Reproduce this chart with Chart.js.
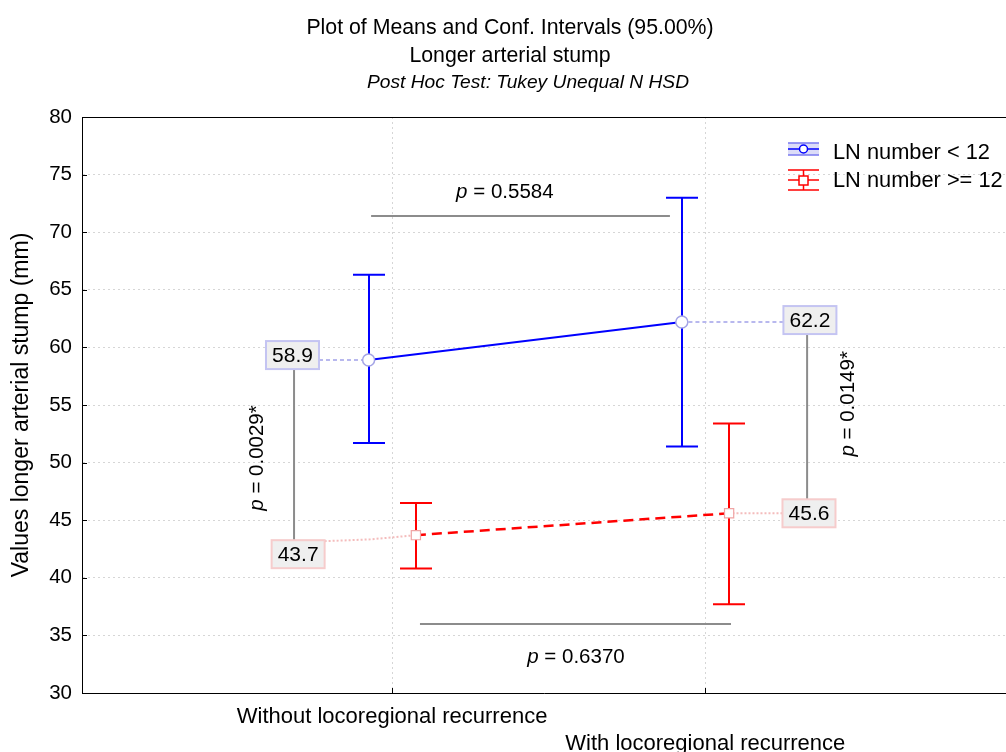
<!DOCTYPE html>
<html><head><meta charset="utf-8">
<script src="https://cdn.jsdelivr.net/npm/chart.js@4/dist/chart.umd.min.js"></script>
<style>html,body{margin:0;padding:0;background:#fff;overflow:hidden}#wrap{width:1006px;height:752px;position:relative}canvas{display:block}</style>
</head><body><div id="wrap"><canvas id="c"></canvas></div>
<script>
// ---- data ----
const categories = ['Without locoregional recurrence', 'With locoregional recurrence'];
const seriesNames = ['LN number < 12', 'LN number >= 12'];
const meansLow = [58.9, 62.2];
const ciLowerLow = [51.7, 51.4];
const ciUpperLow = [66.3, 73.0];
const meansHigh = [43.7, 45.6];
const ciLowerHigh = [40.8, 37.7];
const ciUpperHigh = [46.5, 53.4];
const yTickValues = [30, 35, 40, 45, 50, 55, 60, 65, 70, 75, 80];
const pValues = ['0.5584', '0.6370', '0.0029*', '0.0149*'];
const titleLines = ['Plot of Means and Conf. Intervals (95.00%)', 'Longer arterial stump', 'Post Hoc Test: Tukey Unequal N HSD'];

// ---- style / layout ----
const FONT = '"Liberation Sans", Arial, Helvetica, sans-serif';
const BLUE = '#0000ff', RED = '#ff0000';
const OFF_LOW = -0.075, OFF_HIGH = 0.076;
const groups = [
  {means: meansLow, lo: ciLowerLow, hi: ciUpperLow, off: OFF_LOW, color: BLUE,
   boxBorder: '#c4c4f2', conn: '#b8b8ee', connDash: [4, 3],
   labels: [{dx: -0.318, dy: -5}, {dx: 0.334, dy: -2}]},
  {means: meansHigh, lo: ciLowerHigh, hi: ciUpperHigh, off: OFF_HIGH, color: RED,
   boxBorder: '#f6cccc', conn: '#f4bcbc', connDash: [2, 2],
   labels: [{dx: -0.30, dy: 19}, {dx: 0.331, dy: 0}]}
];
const BOX_W = 53, BOX_H = 28;

function boxRect(chart, g, i) {
  const {x, y} = chart.scales;
  const cx = x.getPixelForValue(i + 1 + g.labels[i].dx);
  const cy = y.getPixelForValue(g.means[i]) + g.labels[i].dy;
  return {cx, cy, l: cx - BOX_W / 2, r: cx + BOX_W / 2, t: cy - BOX_H / 2, b: cy + BOX_H / 2};
}

function drawP(ctx, cx, cy, val, rot, size) {
  ctx.save();
  ctx.translate(cx, cy);
  ctx.rotate(rot);
  ctx.fillStyle = '#000';
  ctx.textBaseline = 'middle';
  ctx.textAlign = 'left';
  const fi = 'italic ' + size + 'px ' + FONT, fn = size + 'px ' + FONT;
  ctx.font = fi; const w1 = ctx.measureText('p').width;
  ctx.font = fn; const rest = ' = ' + val; const w2 = ctx.measureText(rest).width;
  const x0 = -(w1 + w2) / 2;
  ctx.font = fi; ctx.fillText('p', x0, 0);
  ctx.font = fn; ctx.fillText(rest, x0 + w1, 0);
  ctx.restore();
}

const decor = {
  id: 'decor',
  beforeDatasetsDraw(chart) {
    const ctx = chart.ctx; const {x, y} = chart.scales; const ca = chart.chartArea;
    // top frame + inner ticks
    ctx.save();
    ctx.strokeStyle = '#000'; ctx.lineWidth = 1;
    ctx.beginPath(); ctx.moveTo(ca.left, ca.top + 0.5); ctx.lineTo(ca.right, ca.top + 0.5); ctx.stroke();
    ctx.beginPath();
    yTickValues.forEach(v => { const py = Math.round(y.getPixelForValue(v)) + 0.5; ctx.moveTo(ca.left, py); ctx.lineTo(ca.left + 5, py); });
    categories.forEach((c, i) => { const px = Math.round(x.getPixelForValue(i + 1)) + 0.5; ctx.moveTo(px, ca.bottom); ctx.lineTo(px, ca.bottom - 5); });
    ctx.stroke();
    ctx.restore();
    // connectors
    groups.forEach(g => {
      g.means.forEach((m, i) => {
        const b = boxRect(chart, g, i);
        const px = x.getPixelForValue(i + 1 + g.off), py = y.getPixelForValue(m);
        const sx = px > b.cx ? b.r : b.l;
        const sy = Math.max(b.t + 1, Math.min(b.b - 1, py));
        const mx = sx + (px - sx) * 0.5;
        ctx.save();
        ctx.strokeStyle = g.conn; ctx.lineWidth = 2; ctx.setLineDash(g.connDash);
        ctx.beginPath(); ctx.moveTo(sx, sy); ctx.lineTo(mx, sy + (py - sy) * 0.3); ctx.lineTo(px, py); ctx.stroke();
        ctx.restore();
      });
    });
    // p-value brackets
    ctx.save();
    ctx.strokeStyle = '#8c8c8c'; ctx.lineWidth = 2;
    ctx.beginPath();
    ctx.moveTo(x.getPixelForValue(0.933), y.getPixelForValue(71.4));
    ctx.lineTo(x.getPixelForValue(1.887), y.getPixelForValue(71.4));
    ctx.moveTo(x.getPixelForValue(1.089), y.getPixelForValue(36.0));
    ctx.lineTo(x.getPixelForValue(2.082), y.getPixelForValue(36.0));
    const bL1 = boxRect(chart, groups[0], 0), bL2 = boxRect(chart, groups[1], 0);
    const xl = x.getPixelForValue(0.687);
    ctx.moveTo(xl, bL1.b); ctx.lineTo(xl, bL2.t);
    const bR1 = boxRect(chart, groups[0], 1), bR2 = boxRect(chart, groups[1], 1);
    const xr = x.getPixelForValue(2.325);
    ctx.moveTo(xr, bR1.b); ctx.lineTo(xr, bR2.t);
    ctx.stroke();
    ctx.restore();
    drawP(ctx, x.getPixelForValue(1.36), y.getPixelForValue(73.5), pValues[0], 0, 20.5);
    drawP(ctx, x.getPixelForValue(1.587), y.getPixelForValue(33.1), pValues[1], 0, 20.5);
    drawP(ctx, x.getPixelForValue(0.571), y.getPixelForValue(50.4), pValues[2], -Math.PI / 2, 20.5);
    drawP(ctx, x.getPixelForValue(2.456), y.getPixelForValue(55.1), pValues[3], -Math.PI / 2, 20.5);
    // error bars
    groups.forEach(g => {
      ctx.save(); ctx.strokeStyle = g.color; ctx.lineWidth = 2;
      g.means.forEach((m, i) => {
        const X = Math.round(x.getPixelForValue(i + 1 + g.off));
        const top = y.getPixelForValue(g.hi[i]), bot = y.getPixelForValue(g.lo[i]);
        ctx.beginPath();
        ctx.moveTo(X, top); ctx.lineTo(X, bot);
        ctx.moveTo(X - 16, top); ctx.lineTo(X + 16, top);
        ctx.moveTo(X - 16, bot); ctx.lineTo(X + 16, bot);
        ctx.stroke();
      });
      ctx.restore();
    });
  },
  afterDraw(chart) {
    const ctx = chart.ctx;
    // label boxes
    groups.forEach(g => {
      g.means.forEach((m, i) => {
        const b = boxRect(chart, g, i);
        ctx.save();
        ctx.fillStyle = '#efefef'; ctx.fillRect(b.l, b.t, BOX_W, BOX_H);
        ctx.strokeStyle = g.boxBorder; ctx.lineWidth = 2; ctx.strokeRect(b.l, b.t, BOX_W, BOX_H);
        ctx.fillStyle = '#000'; ctx.font = '21px ' + FONT; ctx.textAlign = 'center'; ctx.textBaseline = 'middle';
        ctx.fillText(m.toFixed(1), b.cx, b.cy + 1);
        ctx.restore();
      });
    });
    // titles
    ctx.save();
    ctx.fillStyle = '#000'; ctx.textAlign = 'center'; ctx.textBaseline = 'middle';
    ctx.font = '21.3px ' + FONT; ctx.fillText(titleLines[0], 510, 28);
    ctx.fillText(titleLines[1], 510, 56);
    ctx.font = 'italic 19.2px ' + FONT; ctx.fillText(titleLines[2], 528, 83);
    ctx.restore();
    // legend
    ctx.save();
    ctx.fillStyle = '#dcdcf8'; ctx.fillRect(788, 143, 31, 12);
    ctx.strokeStyle = '#7a7af0'; ctx.lineWidth = 1.5;
    ctx.beginPath(); ctx.moveTo(788, 143); ctx.lineTo(819, 143); ctx.moveTo(788, 155); ctx.lineTo(819, 155); ctx.stroke();
    ctx.strokeStyle = BLUE; ctx.lineWidth = 1.5;
    ctx.beginPath(); ctx.moveTo(788, 149); ctx.lineTo(819, 149); ctx.stroke();
    ctx.fillStyle = '#fff'; ctx.beginPath(); ctx.arc(803.5, 149, 4, 0, Math.PI * 2); ctx.fill(); ctx.stroke();
    ctx.strokeStyle = RED; ctx.lineWidth = 1.5;
    ctx.beginPath();
    ctx.moveTo(788, 170); ctx.lineTo(819, 170); ctx.moveTo(788, 190); ctx.lineTo(819, 190);
    ctx.moveTo(803.5, 170); ctx.lineTo(803.5, 190); ctx.moveTo(788, 180); ctx.lineTo(819, 180);
    ctx.stroke();
    ctx.fillStyle = '#fff'; ctx.fillRect(799, 176, 9, 9); ctx.strokeRect(799, 176, 9, 9);
    ctx.fillStyle = '#000'; ctx.font = '21.8px ' + FONT; ctx.textAlign = 'left'; ctx.textBaseline = 'middle';
    ctx.fillText(seriesNames[0], 833, 153);
    ctx.fillText(seriesNames[1], 833, 181);
    ctx.restore();
  }
};

new Chart(document.getElementById('c'), {
  type: 'line',
  data: {
    datasets: [
      {label: seriesNames[0], data: meansLow.map((m, i) => ({x: i + 1 + OFF_LOW, y: m})),
       borderColor: BLUE, borderWidth: 2, pointStyle: 'circle', pointRadius: 6,
       pointBackgroundColor: '#fff', pointBorderColor: '#a4a4e6', pointBorderWidth: 1.5, tension: 0},
      {label: seriesNames[1], data: meansHigh.map((m, i) => ({x: i + 1 + OFF_HIGH, y: m})),
       borderColor: RED, borderWidth: 2.5, borderDash: [10, 6], pointStyle: 'rect', pointRadius: 6.5,
       pointBackgroundColor: '#fff', pointBorderColor: '#f0a4a4', pointBorderWidth: 1.2, tension: 0}
    ]
  },
  options: {
    responsive: true, maintainAspectRatio: false, animation: false,
    layout: {autoPadding: false, padding: {top: 117, left: 0, right: 0, bottom: 0}},
    plugins: {legend: {display: false}, title: {display: false}, tooltip: {enabled: false}},
    scales: {
      x: {
        type: 'linear', min: 0.01, max: 2.96,
        afterBuildTicks: s => { s.ticks = categories.map((c, i) => ({value: i + 1})); },
        afterFit: s => { s.height = 59; s.paddingLeft = 0; s.paddingRight = 0; },
        ticks: {autoSkip: false, maxRotation: 0, minRotation: 0, padding: 11, color: '#000',
          font: {family: FONT, size: 22},
          callback: v => { const i = Math.round(v) - 1; return i === 1 ? ['', categories[1]] : categories[i]; }},
        grid: {drawTicks: false, color: '#d6d6d6', lineWidth: 1},
        border: {display: true, color: '#000', width: 1, dash: [2, 3]}
      },
      y: {
        min: 30, max: 80,
        afterBuildTicks: s => { s.ticks = yTickValues.map(v => ({value: v})); },
        afterFit: s => { s.width = 82; },
        ticks: {padding: 10, color: '#000', font: {family: FONT, size: 20.5}},
        title: {display: true, text: 'Values longer arterial stump (mm)', color: '#000',
          font: {family: FONT, size: 23}, padding: {top: 8, bottom: 0}},
        grid: {drawTicks: false, color: '#d6d6d6', lineWidth: 1},
        border: {display: true, color: '#000', width: 1, dash: [2, 3]}
      }
    }
  },
  plugins: [decor]
});
</script>
</body></html>
